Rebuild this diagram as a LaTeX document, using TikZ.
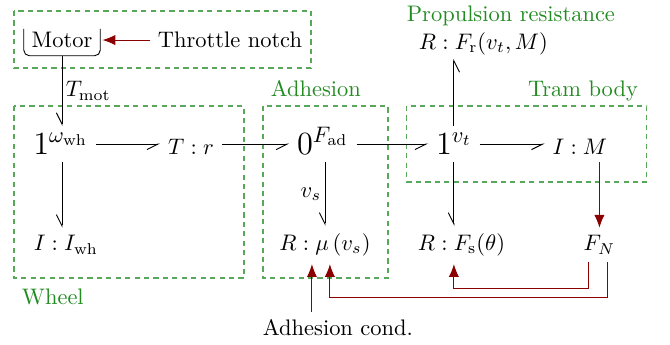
\documentclass[tikz,border=0pt]{standalone}
\usepackage{tikz}
\usetikzlibrary{arrows.meta, positioning, calc}
\definecolor{SigRed}{HTML}{8B0000}
\definecolor{GroupGreen}{HTML}{228B22}
\tikzset{
  junction/.style={font=\Large, text height=9pt, text depth=0pt},
  rowone/.style={text height=9pt, text depth=0pt},
  bond/.style={-{Straight Barb[right, length=5pt, width=5pt]}, draw=black},
  sig/.style={-{Latex[length=2mm, width=1.6mm]}, draw=SigRed},
  groupbox/.style={draw=GroupGreen!75, dash pattern=on 2.3pt off 1.9pt, line width=0.5pt},
  grouplabel/.style={text=GroupGreen}
}
\begin{document}
\begin{tikzpicture}
\useasboundingbox (0,0) rectangle (10.48,-5.396);
% subsystem frames
\draw[groupbox] (0.219,-0.172) rectangle (4.864,-1.064);
\draw[groupbox] (0.219,-1.658) rectangle (3.816,-4.348);
\draw[groupbox] (4.113,-1.658) rectangle (6.068,-4.348);
\draw[groupbox] (6.365,-1.658) rectangle (10.119,-2.846);
\node[grouplabel, anchor=base west] (adhlabel) at (4.113,-1.517) {Adhesion};
\node[grouplabel, anchor=base east] (tramlabel) at (10.103,-1.517) {Tram body};
\node[grouplabel, anchor=base west] (wheellabel) at (0.219,-4.770) {Wheel};
\node[grouplabel, anchor=base] (proplabel) at (7.992,-0.344) {Propulsion resistance};
% source
\node (motor) at (0.970,-0.626) {Motor};
\draw[rounded corners=2.5pt] ([yshift=-2pt]motor.north west) -- (motor.south west) -- (motor.south east) -- ([yshift=-2pt]motor.north east);
\node (throttle) at (3.597,-0.626) {Throttle notch};
\draw[sig, shorten >=1pt] (throttle) -- (motor);
% junction row
\node[junction] (w1) at (0.950,-2.252) {$1^{\omega_{\mathrm{wh}}}$};
\node[rowone] (Tr) at (2.987,-2.252) {$T:r$};
\node[junction] (Fad) at (5.050,-2.252) {$0^{F_{\mathrm{ad}}}$};
\node[junction] (vt) at (7.100,-2.252) {$1^{v_t}$};
\node[rowone] (IM) at (9.071,-2.252) {$I:M$};
% elements
\node (Iw) at (1.030,-3.832) {$I:I_{\mathrm{wh}}$};
\node (Rmu) at (5.083,-3.832) {$R:\mu\,(v_s)$};
\node (Fs) at (7.218,-3.832) {$R:F_{\mathrm{s}}(\theta)$};
\node (FN) at (9.376,-3.832) {$F_N$};
\node[inner ysep=1.5pt] (Fr) at (7.562,-0.688) {$R:F_{\mathrm{r}}(v_t,M)$};
\node (cond) at (5.286,-5.130) {Adhesion cond.};
% bonds
\draw[bond] (motor) -- node[right, inner sep=1.5pt] {$T_{\mathrm{mot}}$} (motor |- w1.north);
\draw[bond] (w1) -- (Tr);
\draw[bond] (Tr) -- (Fad);
\draw[bond] (Fad) -- (vt);
\draw[bond] (vt) -- (IM);
\draw[bond] (motor |- w1.south) -- (motor |- Iw.north);
\draw[bond] (Rmu |- Fad.south) -- node[left, inner sep=1.5pt] {$v_s$} (Rmu.north);
\draw[bond] (vt) -- (vt |- Fs.north);
\draw[bond] (vt) -- (vt |- Fr.south);
% signals
\coordinate (mu1) at ([xshift=-5.8pt]Rmu.south);
\coordinate (mu2) at ([xshift=2.2pt]Rmu.south);
\draw[sig] (FN |- IM.south) -- (FN);
\draw[sig] ([xshift=-4.8pt]FN.south) -- ++(0,-0.41) -| (vt |- Fs.south);
\draw[sig] ([xshift=3.6pt]FN.south) -- ++(0,-0.55) -| (mu2);
\draw[sig] (cond.north -| mu1) -- (mu1);
\end{tikzpicture}
\end{document}
